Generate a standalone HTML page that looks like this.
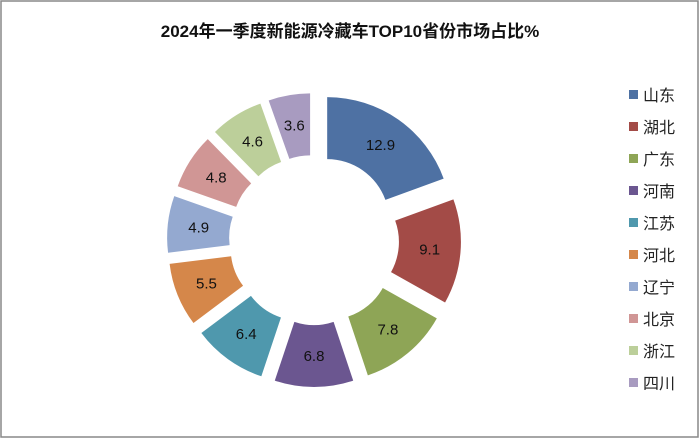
<!DOCTYPE html>
<html><head><meta charset="utf-8"><style>
body{margin:0;background:#fff}
#c{position:relative;width:700px;height:439px;overflow:hidden}
svg text{font-family:"Liberation Sans","Noto Sans CJK SC",sans-serif}
</style></head><body>
<div id="c">
<svg id="s" width="700" height="439">
<rect x="1" y="1" width="697" height="436" fill="#fff" stroke="#888" stroke-width="1.5"/>
<text x="350" y="37" text-anchor="middle" font-size="17" font-weight="bold" fill="#111">2024年一季度新能源冷藏车TOP10省份市场占比%</text>
</svg>
</div>
<script>
const categories=["山东","湖北","广东","河南","江苏","河北","辽宁","北京","浙江","四川"];
const values=[12.9,9.1,7.8,6.8,6.4,5.5,4.9,4.8,4.6,3.6];
const colors=["#4e71a3","#a34b47","#8ea556","#6b5690","#4f98ad","#d5874a","#94a9d0","#d09695","#bccf9a","#a89bc0"];
const NS="http://www.w3.org/2000/svg";
const svg=document.getElementById('s');
const cx=314,cy=240,R=124,r=62,ex=23;
const total=values.reduce((a,b)=>a+b,0);
function pt(a,rad,ox,oy){return [ox+rad*Math.sin(a),oy-rad*Math.cos(a)];}
let acc=0;
values.forEach((v,i)=>{
  const a0=acc/total*2*Math.PI; acc+=v; const a1=acc/total*2*Math.PI;
  const am=(a0+a1)/2; const ox=cx+ex*Math.sin(am), oy=cy-ex*Math.cos(am);
  const p1=pt(a0,R,ox,oy),p2=pt(a1,R,ox,oy),p3=pt(a1,r,ox,oy),p4=pt(a0,r,ox,oy);
  const lg=(a1-a0)>Math.PI?1:0;
  const path=document.createElementNS(NS,'path');
  path.setAttribute('d',`M${p1}A${R},${R} 0 ${lg} 1 ${p2}L${p3}A${r},${r} 0 ${lg} 0 ${p4}Z`);
  path.setAttribute('fill',colors[i]);
  
  
  svg.appendChild(path);
  const lp=pt(am,(R+r)/2,ox,oy);
  const t=document.createElementNS(NS,'text');
  t.setAttribute('x',lp[0]);t.setAttribute('y',lp[1]+5);
  t.setAttribute('text-anchor','middle');t.setAttribute('font-size','15');t.setAttribute('fill','#111');
  t.textContent=v;
  
  
  svg.appendChild(t);
  const y=95+i*32;
  const sq=document.createElementNS(NS,'rect');
  sq.setAttribute('x',629);sq.setAttribute('y',y-5);sq.setAttribute('width',9);sq.setAttribute('height',9);sq.setAttribute('fill',colors[i]);
  
  
  svg.appendChild(sq);
  const lt=document.createElementNS(NS,'text');
  lt.setAttribute('x',643);lt.setAttribute('y',y+6);lt.setAttribute('font-size','16');lt.setAttribute('fill','#222');
  lt.textContent=categories[i];
  
  
  svg.appendChild(lt);
});
</script>
</body></html>
